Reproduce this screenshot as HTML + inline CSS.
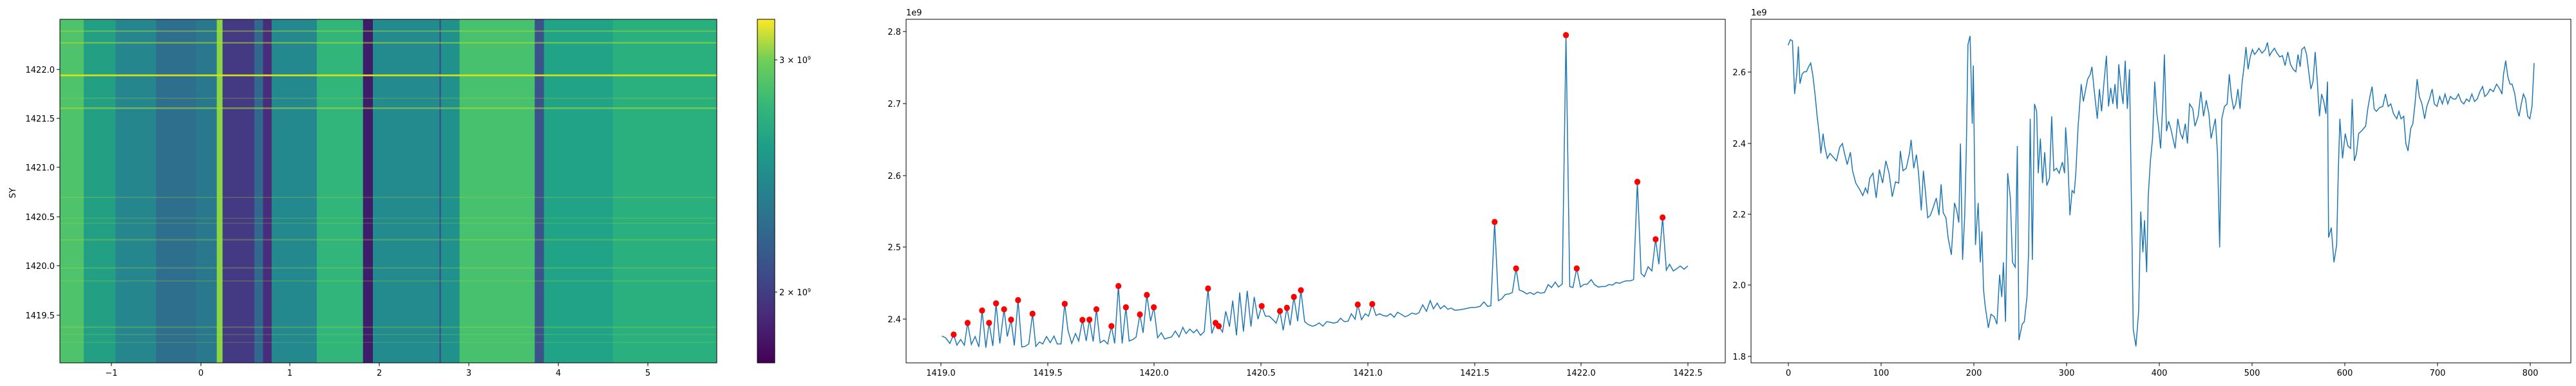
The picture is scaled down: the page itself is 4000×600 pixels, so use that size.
<!DOCTYPE html>
<html><head><meta charset="utf-8"><style>
html,body{margin:0;padding:0;background:#fff;}
svg{display:block;font-family:"DejaVu Sans","Liberation Sans",sans-serif;}
text{font-size:13px;fill:#000;}
</style></head><body>
<svg width="4000" height="600" viewBox="0 0 4000 600" xmlns="http://www.w3.org/2000/svg">
<defs>
<linearGradient id="vir" x1="0" y1="1" x2="0" y2="0">
<stop offset="0" stop-color="#440154"/><stop offset="0.13" stop-color="#482878"/><stop offset="0.25" stop-color="#3e4989"/><stop offset="0.38" stop-color="#31688e"/><stop offset="0.5" stop-color="#26828e"/><stop offset="0.63" stop-color="#1f9e89"/><stop offset="0.75" stop-color="#35b779"/><stop offset="0.88" stop-color="#6ece58"/><stop offset="1" stop-color="#fde725"/>
</linearGradient>
</defs>
<!-- Panel 1 heatmap -->
<g transform="scale(0.89767,0.38462)">
<rect x="104" y="78" width="1136" height="1389" fill="#22998a"/>
<rect x="104" y="78" width="41" height="1389" fill="#4ec36b"/>
<rect x="145" y="78" width="55" height="1389" fill="#23a084"/>
<rect x="200" y="78" width="70" height="1389" fill="#26868e"/>
<rect x="270" y="78" width="70" height="1389" fill="#2f6f8e"/>
<rect x="340" y="78" width="35" height="1389" fill="#2a788e"/>
<rect x="375" y="78" width="10" height="1389" fill="#8ad546"/>
<rect x="385" y="78" width="55" height="1389" fill="#443a83"/>
<rect x="440" y="78" width="15" height="1389" fill="#31688e"/>
<rect x="455" y="78" width="15" height="1389" fill="#472d7b"/>
<rect x="470" y="78" width="78" height="1389" fill="#23898e"/>
<rect x="548" y="78" width="80" height="1389" fill="#31b57b"/>
<rect x="628" y="78" width="17" height="1389" fill="#3f1d6a"/>
<rect x="645" y="78" width="115" height="1389" fill="#238a8d"/>
<rect x="760" y="78" width="3" height="1389" fill="#3b528b"/>
<rect x="763" y="78" width="32" height="1389" fill="#21918c"/>
<rect x="795" y="78" width="130" height="1389" fill="#48c16e"/>
<rect x="925" y="78" width="16" height="1389" fill="#3b528b"/>
<rect x="941" y="78" width="119" height="1389" fill="#20a386"/>
<rect x="1060" y="78" width="180" height="1389" fill="#2ab07f"/>
<g fill="#b5de2b" opacity="0.55">
<rect x="104" y="123" width="1136" height="5"/><rect x="104" y="170" width="1136" height="6"/><rect x="104" y="434" width="1136" height="7"/>
<rect x="104" y="395" width="1136" height="4" opacity="0.5"/><rect x="104" y="795" width="1136" height="5" opacity="0.5"/>
<rect x="104" y="966" width="1136" height="6" opacity="0.5"/><rect x="104" y="1080" width="1136" height="6" opacity="0.5"/>
<rect x="104" y="1133" width="1136" height="5" opacity="0.5"/><rect x="104" y="1320" width="1136" height="5" opacity="0.5"/>
<rect x="104" y="1350" width="1136" height="4" opacity="0.4"/><rect x="104" y="1382" width="1136" height="4" opacity="0.4"/>
<rect x="104" y="880" width="1136" height="4" opacity="0.4"/><rect x="104" y="900" width="1136" height="4" opacity="0.4"/>
</g>
<rect x="104" y="301" width="1136" height="7" fill="#d8e219"/>
</g>
<rect x="93" y="30" width="1020" height="534" fill="none" stroke="#000" stroke-width="1"/>
<g stroke="#000">
<line x1="173" y1="564" x2="173" y2="569"/><line x1="312" y1="564" x2="312" y2="569"/><line x1="450" y1="564" x2="450" y2="569"/><line x1="589" y1="564" x2="589" y2="569"/><line x1="728" y1="564" x2="728" y2="569"/><line x1="867" y1="564" x2="867" y2="569"/><line x1="1006" y1="564" x2="1006" y2="569"/>
<line x1="88" y1="108" x2="93" y2="108"/><line x1="88" y1="184" x2="93" y2="184"/><line x1="88" y1="260" x2="93" y2="260"/><line x1="88" y1="337" x2="93" y2="337"/><line x1="88" y1="413" x2="93" y2="413"/><line x1="88" y1="490" x2="93" y2="490"/>
</g>
<g text-anchor="middle">
<text x="173" y="584">−1</text><text x="312" y="584">0</text><text x="450" y="584">1</text><text x="589" y="584">2</text><text x="728" y="584">3</text><text x="867" y="584">4</text><text x="1006" y="584">5</text>
</g>
<g text-anchor="end">
<text x="85" y="113">1422.0</text><text x="85" y="189">1421.5</text><text x="85" y="265">1421.0</text><text x="85" y="342">1420.5</text><text x="85" y="418">1420.0</text><text x="85" y="495">1419.5</text>
</g>
<text x="24" y="300" text-anchor="middle" transform="rotate(-90 24 300)">SY</text>
<!-- colorbar -->
<rect x="1176" y="30" width="27" height="534" fill="url(#vir)" stroke="#000" stroke-width="1"/>
<line x1="1203" y1="93" x2="1207" y2="93" stroke="#000"/><line x1="1203" y1="454" x2="1207" y2="454" stroke="#000"/>
<text x="1210" y="98" font-size="11">3 × 10<tspan font-size="8" dy="-5">9</tspan></text>
<text x="1210" y="459" font-size="11">2 × 10<tspan font-size="8" dy="-5">9</tspan></text>

<!-- Panel 2 -->
<rect x="1407" y="30" width="1272" height="534" fill="none" stroke="#000" stroke-width="1"/>
<g transform="translate(1400,0) scale(0.83333,0.38462)">
<polyline fill="none" stroke="#1f77b4" stroke-width="1.5" vector-effect="non-scaling-stroke" points="75,1358 82,1365 90,1388 97,1352 103,1395 110,1372 117,1395 123,1305 130,1392 137,1360 144,1402 150,1255 157,1405 163,1305 170,1398 176,1226 183,1388 191,1250 197,1360 204,1292 210,1396 217,1213 224,1402 230,1400 237,1390 244,1268 250,1400 257,1382 263,1390 270,1360 277,1385 284,1358 290,1390 297,1390 304,1228 310,1335 317,1388 324,1348 330,1378 337,1293 344,1378 350,1292 357,1380 363,1250 370,1385 377,1375 384,1390 391,1318 397,1388 404,1156 411,1388 418,1242 424,1378 431,1372 437,1362 444,1271 450,1345 457,1192 464,1298 470,1242 477,1365 484,1345 490,1370 497,1365 503,1362 510,1338 517,1362 524,1323 530,1348 537,1330 544,1345 550,1332 557,1355 564,1340 571,1166 578,1348 585,1305 591,1318 598,1342 604,1258 611,1320 617,1215 624,1355 630,1182 637,1340 644,1175 651,1320 657,1200 664,1290 671,1237 678,1278 685,1278 691,1290 698,1306 705,1257 711,1335 718,1244 724,1315 731,1200 738,1298 744,1173 751,1300 758,1312 765,1318 771,1315 778,1305 785,1318 792,1300 798,1302 805,1306 812,1302 818,1286 825,1300 832,1298 838,1268 845,1290 850,1231 857,1292 864,1268 870,1278 877,1229 884,1275 891,1268 897,1275 904,1278 911,1268 918,1282 924,1262 931,1270 938,1280 944,1275 951,1265 958,1270 964,1264 971,1232 978,1258 985,1215 991,1248 998,1225 1004,1248 1011,1235 1018,1250 1024,1245 1031,1254 1040,1252 1050,1248 1060,1243 1070,1242 1078,1238 1085,1220 1092,1238 1098,1236 1105,897 1112,1215 1118,1208 1125,1190 1132,1188 1138,1182 1145,1085 1151,1172 1158,1178 1165,1188 1171,1182 1178,1190 1185,1180 1191,1185 1198,1182 1205,1150 1211,1162 1218,1140 1224,1160 1231,1148 1238,142 1245,1158 1251,1162 1258,1085 1265,1160 1271,1150 1278,1148 1285,1130 1291,1150 1298,1160 1305,1158 1311,1158 1318,1150 1325,1152 1331,1142 1338,1145 1345,1138 1351,1135 1358,1135 1364,1130 1371,735 1378,1105 1384,1118 1391,1078 1398,1095 1405,967 1411,1068 1418,879 1425,1092 1431,1068 1438,1095 1445,1085 1451,1075 1458,1088 1465,1075"/>
<g fill="#ff0000">
<ellipse cx="97" cy="1352" rx="5.5" ry="12.5"/><ellipse cx="123" cy="1305" rx="5.5" ry="12.5"/><ellipse cx="150" cy="1255" rx="5.5" ry="12.5"/><ellipse cx="163" cy="1305" rx="5.5" ry="12.5"/><ellipse cx="176" cy="1226" rx="5.5" ry="12.5"/><ellipse cx="191" cy="1250" rx="5.5" ry="12.5"/><ellipse cx="204" cy="1292" rx="5.5" ry="12.5"/><ellipse cx="217" cy="1213" rx="5.5" ry="12.5"/><ellipse cx="244" cy="1268" rx="5.5" ry="12.5"/><ellipse cx="304" cy="1228" rx="5.5" ry="12.5"/><ellipse cx="337" cy="1293" rx="5.5" ry="12.5"/><ellipse cx="350" cy="1292" rx="5.5" ry="12.5"/><ellipse cx="363" cy="1250" rx="5.5" ry="12.5"/><ellipse cx="391" cy="1318" rx="5.5" ry="12.5"/><ellipse cx="404" cy="1156" rx="5.5" ry="12.5"/><ellipse cx="418" cy="1242" rx="5.5" ry="12.5"/><ellipse cx="444" cy="1271" rx="5.5" ry="12.5"/><ellipse cx="457" cy="1192" rx="5.5" ry="12.5"/><ellipse cx="470" cy="1242" rx="5.5" ry="12.5"/><ellipse cx="571" cy="1166" rx="5.5" ry="12.5"/><ellipse cx="585" cy="1305" rx="5.5" ry="12.5"/><ellipse cx="591" cy="1318" rx="5.5" ry="12.5"/><ellipse cx="671" cy="1237" rx="5.5" ry="12.5"/><ellipse cx="705" cy="1257" rx="5.5" ry="12.5"/><ellipse cx="718" cy="1244" rx="5.5" ry="12.5"/><ellipse cx="731" cy="1200" rx="5.5" ry="12.5"/><ellipse cx="744" cy="1173" rx="5.5" ry="12.5"/><ellipse cx="850" cy="1231" rx="5.5" ry="12.5"/><ellipse cx="877" cy="1229" rx="5.5" ry="12.5"/><ellipse cx="1105" cy="897" rx="5.5" ry="12.5"/><ellipse cx="1145" cy="1085" rx="5.5" ry="12.5"/><ellipse cx="1238" cy="142" rx="5.5" ry="12.5"/><ellipse cx="1258" cy="1085" rx="5.5" ry="12.5"/><ellipse cx="1371" cy="735" rx="5.5" ry="12.5"/><ellipse cx="1405" cy="967" rx="5.5" ry="12.5"/><ellipse cx="1418" cy="879" rx="5.5" ry="12.5"/>
</g>
</g>
<g stroke="#000">
<line x1="1461" y1="564" x2="1461" y2="569"/><line x1="1627" y1="564" x2="1627" y2="569"/><line x1="1792" y1="564" x2="1792" y2="569"/><line x1="1958" y1="564" x2="1958" y2="569"/><line x1="2124" y1="564" x2="2124" y2="569"/><line x1="2290" y1="564" x2="2290" y2="569"/><line x1="2455" y1="564" x2="2455" y2="569"/><line x1="2621" y1="564" x2="2621" y2="569"/>
<line x1="1402" y1="49" x2="1407" y2="49"/><line x1="1402" y1="161" x2="1407" y2="161"/><line x1="1402" y1="273" x2="1407" y2="273"/><line x1="1402" y1="384" x2="1407" y2="384"/><line x1="1402" y1="496" x2="1407" y2="496"/>
</g>
<g text-anchor="middle">
<text x="1461" y="584">1419.0</text><text x="1627" y="584">1419.5</text><text x="1792" y="584">1420.0</text><text x="1958" y="584">1420.5</text><text x="2124" y="584">1421.0</text><text x="2290" y="584">1421.5</text><text x="2455" y="584">1422.0</text><text x="2621" y="584">1422.5</text>
</g>
<g text-anchor="end">
<text x="1399" y="54">2.8</text><text x="1399" y="166">2.7</text><text x="1399" y="278">2.6</text><text x="1399" y="389">2.5</text><text x="1399" y="501">2.4</text>
</g>
<text x="1407" y="24" font-size="12">1e9</text>

<!-- Panel 3 -->
<rect x="2719" y="30" width="1273" height="534" fill="none" stroke="#000" stroke-width="1"/>
<g transform="translate(2700,0) scale(0.83333,0.38462)">
<polyline fill="none" stroke="#1f77b4" stroke-width="1.5" vector-effect="non-scaling-stroke" points="92,183 96,160 100,165 104,380 108,300 111,188 114,338 118,300 122,290 126,290 130,270 134,255 138,305 142,380 146,470 150,545 153,620 157,540 160,590 165,640 170,620 176,635 182,650 188,595 193,580 197,620 202,665 208,615 212,690 218,740 225,765 231,790 236,760 240,780 244,720 250,700 256,800 262,685 268,740 274,650 280,700 286,795 292,735 298,740 301,610 306,690 312,680 318,620 321,565 326,680 331,625 335,700 340,850 344,690 348,780 352,880 357,870 362,840 368,800 373,870 377,745 381,860 386,880 390,960 396,1030 402,820 406,850 410,900 413,580 417,1050 421,870 424,600 427,180 431,145 435,500 437,265 441,990 446,820 450,1060 453,935 456,1170 459,1235 465,1325 470,1270 476,1280 481,1310 486,1110 490,1200 493,1060 497,1300 501,700 506,800 510,1060 515,1080 519,590 522,1375 528,1310 532,1300 537,1200 540,1020 543,480 547,1050 551,420 555,450 558,700 562,560 566,740 570,615 574,750 579,720 583,470 587,690 592,680 597,700 603,655 607,700 609,515 613,640 617,870 621,770 625,780 628,700 632,520 638,340 642,410 646,365 650,320 655,300 658,270 662,360 668,480 672,360 676,450 680,345 685,225 689,430 693,355 697,420 701,340 705,440 708,260 712,350 716,420 720,245 724,440 728,280 732,870 735,1330 740,1400 745,1260 749,855 753,1020 756,890 760,1100 763,790 767,650 771,560 775,330 779,460 782,510 786,600 790,420 793,220 797,530 801,490 805,520 809,560 813,600 818,480 823,540 827,560 832,500 836,580 840,420 846,440 850,510 856,470 861,370 866,470 871,405 876,460 880,560 884,520 888,480 892,620 896,1000 900,480 905,430 910,420 914,300 918,390 922,440 926,420 930,360 934,440 938,330 942,260 945,190 949,280 953,230 957,200 961,220 965,210 969,195 975,215 981,200 985,172 989,225 993,210 998,195 1003,215 1008,230 1013,225 1018,265 1023,210 1028,260 1033,280 1038,290 1042,220 1046,270 1049,200 1054,190 1058,220 1062,290 1066,360 1070,330 1074,210 1078,330 1082,470 1086,380 1090,410 1094,460 1097,330 1099,960 1104,920 1109,1060 1114,990 1117,700 1120,480 1125,640 1130,540 1135,590 1140,600 1143,400 1147,650 1151,620 1155,540 1160,530 1164,520 1168,510 1172,440 1176,390 1180,350 1184,440 1188,450 1194,435 1200,430 1205,380 1210,430 1215,420 1220,460 1226,480 1230,450 1234,480 1239,470 1243,580 1247,610 1252,520 1256,500 1260,420 1264,320 1268,390 1273,420 1278,480 1282,430 1287,400 1292,360 1296,420 1301,430 1306,390 1311,420 1316,380 1321,420 1326,390 1331,400 1336,400 1341,380 1346,410 1351,420 1356,400 1361,410 1366,380 1371,410 1376,400 1381,370 1386,350 1390,390 1395,380 1400,360 1406,370 1412,340 1418,360 1422,380 1425,300 1429,245 1433,310 1437,340 1441,340 1446,380 1450,440 1454,470 1458,420 1462,380 1466,400 1470,470 1474,480 1478,430 1482,255"/>
</g>
<g stroke="#000">
<line x1="2777" y1="564" x2="2777" y2="569"/><line x1="2921" y1="564" x2="2921" y2="569"/><line x1="3065" y1="564" x2="3065" y2="569"/><line x1="3209" y1="564" x2="3209" y2="569"/><line x1="3353" y1="564" x2="3353" y2="569"/><line x1="3497" y1="564" x2="3497" y2="569"/><line x1="3641" y1="564" x2="3641" y2="569"/><line x1="3785" y1="564" x2="3785" y2="569"/><line x1="3929" y1="564" x2="3929" y2="569"/>
<line x1="2714" y1="112" x2="2719" y2="112"/><line x1="2714" y1="223" x2="2719" y2="223"/><line x1="2714" y1="333" x2="2719" y2="333"/><line x1="2714" y1="443" x2="2719" y2="443"/><line x1="2714" y1="554" x2="2719" y2="554"/>
</g>
<g text-anchor="middle">
<text x="2777" y="584">0</text><text x="2921" y="584">100</text><text x="3065" y="584">200</text><text x="3209" y="584">300</text><text x="3353" y="584">400</text><text x="3497" y="584">500</text><text x="3641" y="584">600</text><text x="3785" y="584">700</text><text x="3929" y="584">800</text>
</g>
<g text-anchor="end">
<text x="2711" y="117">2.6</text><text x="2711" y="228">2.4</text><text x="2711" y="338">2.2</text><text x="2711" y="448">2.0</text><text x="2711" y="559">1.8</text>
</g>
<text x="2719" y="24" font-size="12">1e9</text>
</svg>
</body></html>
